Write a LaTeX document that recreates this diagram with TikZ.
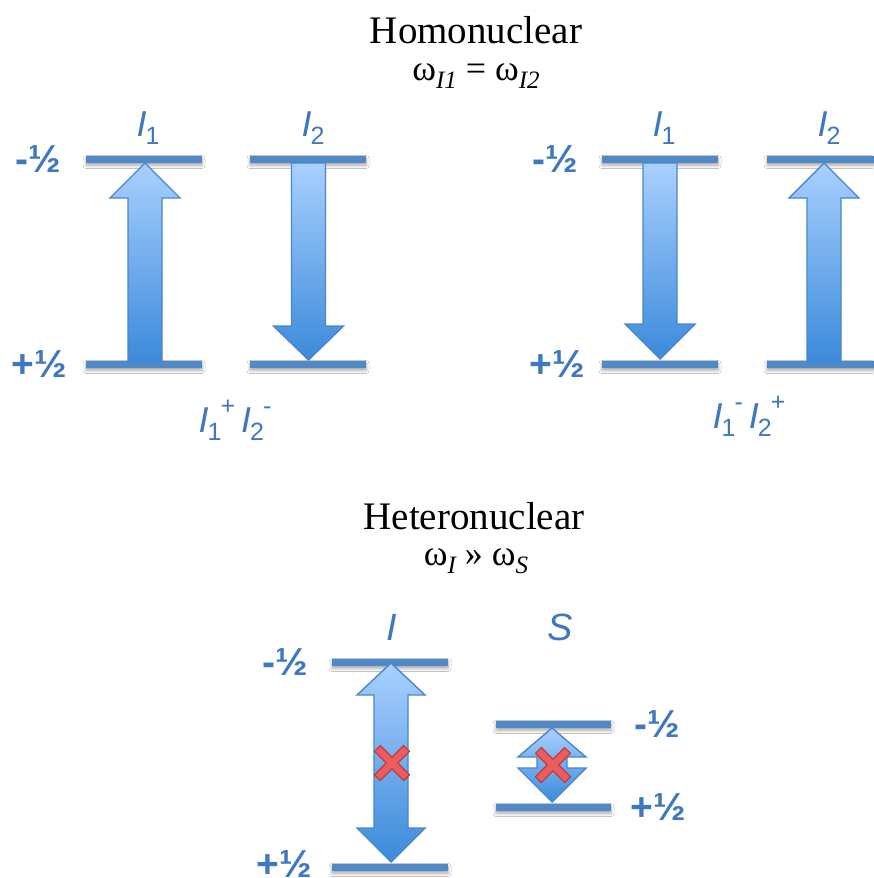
\documentclass[tikz,border=0pt]{standalone}
\usepackage{fontspec}
\setmainfont{Liberation Serif}
\setsansfont{Liberation Sans}
\usetikzlibrary{shadows.blur}
\definecolor{lvlc}{HTML}{5089C8}
\definecolor{txtb}{HTML}{3F78C0}
\definecolor{arrtop}{HTML}{A9D0FF}
\definecolor{arrbot}{HTML}{3B8ADA}
\definecolor{arredge}{HTML}{4A86CB}
\definecolor{xfill}{HTML}{EC5B5E}
\definecolor{xedge}{HTML}{B83838}
\tikzset{
  lvlbar/.style={fill=lvlc, blur shadow={shadow blur steps=6, shadow xshift=0pt, shadow yshift=-3pt, shadow opacity=35, shadow blur radius=3pt}},
  arrbody/.style={top color=arrtop, bottom color=arrbot, draw=arredge, line width=1.4pt, line join=miter},
  lbl/.style={font=\sffamily\bfseries\fontsize{39}{41}\selectfont, text=txtb, inner sep=0pt},
  spin/.style={font=\sffamily\fontsize{36}{38}\selectfont, text=txtb, inner sep=0pt},
  ttl/.style={font=\fontsize{39}{42}\selectfont, text=black, inner sep=0pt},
  freq/.style={font=\fontsize{36}{38}\selectfont, text=black, inner sep=0pt}
}
\newcommand\MyLvl[3]{\path[lvlbar] (#1,#3-3.5) rectangle (#2,#3+3.5);}
\newcommand\MyUp[4]{\path[arrbody] (#1,#2) -- (#1+35,#3) -- (#1+17,#3) -- (#1+17,#4) -- (#1-17,#4) -- (#1-17,#3) -- (#1-35,#3) -- cycle;}
\newcommand\MyDn[4]{\path[arrbody] (#1-17,#2) -- (#1+17,#2) -- (#1+17,#3) -- (#1+35,#3) -- (#1,#4) -- (#1-35,#3) -- (#1-17,#3) -- cycle;}
\newcommand\MyDb[7]{\path[arrbody] (#1,#2) -- (#1+#7,#3) -- (#1+#6,#3) -- (#1+#6,#4) -- (#1+#7,#4) -- (#1,#5) -- (#1-#7,#4) -- (#1-#6,#4) -- (#1-#6,#3) -- (#1-#7,#3) -- cycle;}
\newcommand\MyX[2]{%
  \draw[xedge, line width=9.5pt] (#1-15,#2-15) -- (#1+15,#2+15) (#1-15,#2+15) -- (#1+15,#2-15);
  \draw[xfill, line width=7pt] (#1-14.2,#2-14.2) -- (#1+14.2,#2+14.2) (#1-14.2,#2+14.2) -- (#1+14.2,#2-14.2);}
\newcommand\Sb[1]{\raisebox{-0.22em}{\fontsize{25}{27}\selectfont #1}}
\newcommand\Sp[1]{\raisebox{0.5em}{\fontsize{25}{27}\selectfont #1}}
\newcommand\Fs[1]{\raisebox{-0.22em}{\fontsize{25}{27}\selectfont\itshape #1}}
\begin{document}
\begin{tikzpicture}[x=1pt,y=-1pt]
\useasboundingbox (0,0) rectangle (873,878);
\fill[white] (0,0) rectangle (873,878);
% titles
\node[ttl] (homo) at (476,30) {Homonuclear};
\node[freq] (homof) at (476,76) {ω\Fs{I1} = ω\Fs{I2}};
\node[ttl] (hetero) at (474,516) {Heteronuclear};
\node[freq] (heterof) at (476,561) {ω\Fs{I} » ω\Fs{S}};
% ---------- top left ----------
\MyLvl{86}{202}{159}
\MyLvl{250}{366}{159}
\MyLvl{86}{202}{364}
\MyLvl{250}{366}{364}
\MyUp{145}{163}{198}{362}
\MyDn{308.5}{163}{326}{360}
\node[lbl] (lm1) at (38,159) {-½};
\node[lbl] (lp1) at (39,364) {+½};
\node[spin] (a1) at (148,128) {\textit{I}\kern-1pt\Sb{1}};
\node[spin] (a2) at (313,128) {\textit{I}\kern-1pt\Sb{2}};
\node[spin] (c1) at (235,420) {\textit{I}\kern-1pt\Sb{1}\kern-1pt\Sp{+}\,\textit{I}\kern-1pt\Sb{2}\kern-1pt\Sp{-}};
% ---------- top right ----------
\MyLvl{602}{718}{159}
\MyLvl{767}{883}{159}
\MyLvl{602}{718}{364}
\MyLvl{767}{883}{364}
\MyDn{660}{163}{324}{359}
\MyUp{824}{163}{198}{362}
\node[lbl] (rm1) at (555,159) {-½};
\node[lbl] (rp1) at (557,364) {+½};
\node[spin] (b1) at (664,128) {\textit{I}\kern-1pt\Sb{1}};
\node[spin] (b2) at (829,128) {\textit{I}\kern-1pt\Sb{2}};
\node[spin] (c2) at (749,416) {\textit{I}\kern-1pt\Sb{1}\kern-1pt\Sp{-}\,\textit{I}\kern-1pt\Sb{2}\kern-1pt\Sp{+}};
% ---------- bottom ----------
\MyLvl{332}{448}{662}
\MyLvl{332}{448}{867}
\MyLvl{496}{611}{724}
\MyLvl{496}{611}{807}
\MyDb{391}{663}{695}{828}{862}{17}{34}
\MyDb{552}{728}{757}{768}{802}{15}{34}
\MyX{392}{763}
\MyX{553}{765}
\node[lbl] (bm1) at (285,662) {-½};
\node[lbl] (bp1) at (284,864) {+½};
\node[lbl] (sm1) at (657,724) {-½};
\node[lbl] (sp1) at (658,807) {+½};
\node[spin, font=\sffamily\fontsize{38}{40}\selectfont] (nI) at (392,627) {\textit{I}};
\node[spin, font=\sffamily\fontsize{38}{40}\selectfont] (nS) at (560,627) {\textit{S}};
\end{tikzpicture}
\end{document}
